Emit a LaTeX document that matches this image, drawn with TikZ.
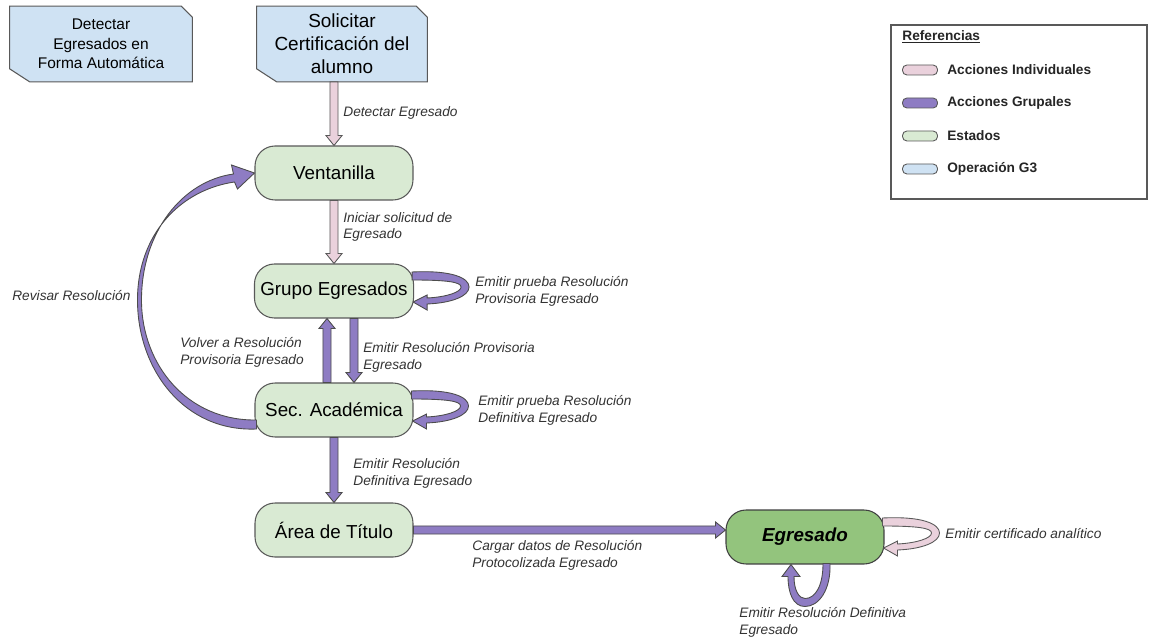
\documentclass[tikz,border=0pt]{standalone}
\usepackage{fontspec}
\setmainfont{Liberation Sans}
\usetikzlibrary{calc,positioning,backgrounds}

\definecolor{pinkfill}{HTML}{EAD1DC}
\definecolor{purplefill}{HTML}{8E7CC3}
\definecolor{greenfill}{HTML}{D9EAD3}
\definecolor{egrfill}{HTML}{93C47D}
\definecolor{bluefill}{HTML}{CFE2F3}
\definecolor{edgegray}{HTML}{595959}
\definecolor{labelgray}{HTML}{333333}

% block arrow from #2 to #3, style #1
\newcommand{\blockarrow}[3][]{%
  \coordinate (ba-h) at ($#3!5.7pt!#2$);
  \filldraw[#1] ($#2!2.3pt!90:#3$) -- ($(ba-h)!2.3pt!90:#3$) -- ($(ba-h)!4.6pt!90:#3$) -- #3
    -- ($(ba-h)!4.6pt!-90:#3$) -- ($(ba-h)!2.3pt!-90:#3$) -- ($#2!2.3pt!-90:#3$) -- cycle;}

% snipped box behind an operation node
\newcommand{\opshape}[1]{%
  \filldraw[fill=bluefill, draw=edgegray, line width=0.6pt]
    (#1.north west) -- ([xshift=-0.22cm]#1.north east) -- ([yshift=-0.22cm]#1.north east)
    -- (#1.south east) -- ([xshift=0.4cm]#1.south west) -- ([yshift=0.26cm]#1.south west) -- cycle;}

\tikzset{
  loopright/.pic={
    \path[pic actions] (-2,-19) .. controls (38,-21) and (55,-13) .. (55,-4)
      .. controls (55,5) and (38,12) .. (13,13) -- (13,19) -- (-1,11) -- (13,4) -- (13,7)
      .. controls (33,6) and (47,1) .. (47,-4) .. controls (47,-9) and (33,-11) .. (-2,-11) -- cycle;
  },
  loopbelow/.pic={
    \path[pic actions] (25,-1) .. controls (26,25) and (14,42) .. (0,42)
      .. controls (-12,42) and (-17,28) .. (-17,12) -- (-23,12) -- (-14,0) -- (-5,12) -- (-11,12)
      .. controls (-11,26) and (-6,34) .. (0,34) .. controls (10,34) and (18,22) .. (18,-1) -- cycle;
  }
}

\begin{document}
\begin{tikzpicture}[
  x=0.02cm, y=-0.02cm,
  state/.style={draw=edgegray, fill=greenfill, line width=0.6pt, rounded corners=0.4cm,
    minimum width=3.16cm, minimum height=1.08cm, font=\fontsize{10.7}{12.8}\selectfont},
  final/.style={state, fill=egrfill, draw=black!75, font=\fontsize{10.7}{12.8}\selectfont\bfseries\itshape},
  opnode/.style={align=center, minimum width=3.4cm, minimum height=1.5cm, inner sep=0pt,
    font=\fontsize{10.8}{13}\selectfont},
  pinkarrow/.style={fill=pinkfill, draw=edgegray, line width=0.5pt},
  purplearrow/.style={fill=purplefill, draw=black!70, line width=0.5pt},
  lbl/.style={font=\fontsize{7.8}{9.6}\selectfont\itshape, text=labelgray, align=left,
    anchor=west, inner sep=0pt},
  swatch/.style={draw=edgegray, line width=0.5pt, rounded corners=2.5pt,
    minimum width=0.7cm, minimum height=0.2cm, inner sep=0pt},
  legtxt/.style={font=\fontsize{7.8}{9.6}\selectfont\bfseries, text=black!85, inner sep=0pt}
]
\useasboundingbox (0,0) rectangle (1149,638);

% ── Operations G3 ─────────────────────────────────────────────
\node[opnode, minimum width=3.64cm, font=\fontsize{8.8}{11}\selectfont] (det) at (101,44)
  {Detectar\\Egresados en\\Forma Automática};
\node[opnode] (sol) at (342,44) {Solicitar\\Certificación del\\alumno};

% ── States ────────────────────────────────────────────────────
\node[state] (ven) at (334,173) {Ventanilla};
\node[state] (grp) at (334,291) {Grupo Egresados};
\node[state] (sec) at (334,410) {Sec. Académica};
\node[state] (tit) at (334,530) {Área de Título};
\node[final] (egr) at (805,537) {Egresado};

\begin{scope}[on background layer]
  \fill[white] (0,0) rectangle (1149,638);
  \opshape{det}
  \opshape{sol}
\end{scope}

% ── Straight actions ──────────────────────────────────────────
\coordinate (a1) at (ven.north |- sol.south);
\coordinate (upS) at ($(sec.north)+(-7,0)$);
\coordinate (upE) at ($(grp.south)+(-7,0)$);
\coordinate (dnS) at ($(grp.south)+(20,0)$);
\coordinate (dnE) at ($(sec.north)+(20,0)$);
\coordinate (a5) at (tit.east -| egr.west);
\blockarrow[pinkarrow]{(a1)}{(ven.north)}
\blockarrow[pinkarrow]{(ven.south)}{(grp.north)}
\blockarrow[purplearrow]{(upS)}{(upE)}
\blockarrow[purplearrow]{(dnS)}{(dnE)}
\blockarrow[purplearrow]{(sec.south)}{(tit.north)}
\blockarrow[purplearrow]{(tit.east)}{(a5)}

% ── Revisar Resolución (curved back to Ventanilla) ───────────
\begin{scope}[shift={(sec.west)}]
  \filldraw[purplearrow] (2,19) .. controls (-70,22) and (-117,-40) .. (-117,-110)
    .. controls (-117,-175) and (-75,-220) .. (-20,-228) -- (-17,-221) -- (0,-237)
    -- (-23,-245) -- (-21,-236) .. controls (-72,-229) and (-113,-178) .. (-113,-110)
    .. controls (-113,-45) and (-67,11) .. (2,10) -- cycle;
\end{scope}

% ── Self loops ────────────────────────────────────────────────
\pic[purplearrow] at (grp.east) {loopright};
\pic[purplearrow] at (sec.east) {loopright};
\pic[pinkarrow] at (egr.east) {loopright};
\pic[purplearrow] at (egr.south) {loopbelow};

% ── Labels ────────────────────────────────────────────────────
\node[lbl] (lDet) at (343,113) {Detectar Egresado};
\node[lbl] (lIni) at (343,227) {Iniciar solicitud de\\Egresado};
\node[lbl] (lPrv) at (475,291) {Emitir prueba Resolución\\Provisoria Egresado};
\node[lbl] (lVol) at (180,352) {Volver a Resolución\\Provisoria Egresado};
\node[lbl] (lEmP) at (363,357) {Emitir Resolución Provisoria\\Egresado};
\node[lbl] (lDef) at (478,410) {Emitir prueba Resolución\\Definitiva Egresado};
\node[lbl] (lRev) at (12,296) {Revisar Resolución};
\node[lbl] (lEmD) at (353,473) {Emitir Resolución\\Definitiva Egresado};
\node[lbl] (lCar) at (472,555) {Cargar datos de Resolución\\Protocolizada Egresado};
\node[lbl] (lCer) at (945,534) {Emitir certificado analítico};
\node[lbl] (lFin) at (739,622) {Emitir Resolución Definitiva\\Egresado};

% ── Legend ────────────────────────────────────────────────────
\draw[edgegray, line width=0.6pt] (891,25) rectangle (1147,199);
\node[legtxt, anchor=west] (ref) at (902,37) {\underline{Referencias}};
\node[swatch, fill=pinkfill] (swA) at (920,70) {};
\node[swatch, fill=purplefill] (swB) at (920,103) {};
\node[swatch, fill=greenfill] (swC) at (920,136) {};
\node[swatch, fill=bluefill] (swD) at (920,169) {};
\node[legtxt, right=0.18cm of swA] {Acciones Individuales};
\node[legtxt, right=0.18cm of swB] {Acciones Grupales};
\node[legtxt, right=0.18cm of swC] {Estados};
\node[legtxt, right=0.18cm of swD] {Operación G3};

\end{tikzpicture}
\end{document}
